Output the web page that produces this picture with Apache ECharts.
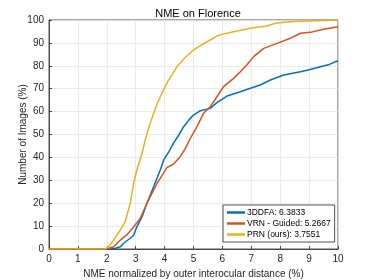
<!DOCTYPE html>
<html><head><meta charset="utf-8">
<script src="https://cdn.jsdelivr.net/npm/echarts@6/dist/echarts.min.js"></script>
<style>html,body{margin:0;padding:0;background:#fff}#c{width:374px;height:280px}</style>
</head><body><div id="c"></div>
<script>
var xTicks = [0,1,2,3,4,5,6,7,8,9,10];
var yTicks = [0,10,20,30,40,50,60,70,80,90,100];
var seriesNames = ['3DDFA: 6.3833', 'VRN - Guided: 5.2667', 'PRN (ours): 3.7551'];

var ddfaX = [0, 2.1, 2.3, 2.47, 2.58, 2.81, 2.93, 3.04, 3.22, 3.39, 3.62, 3.85, 3.97, 4.15, 4.31, 4.5, 4.66, 4.85, 5.0, 5.24, 5.58, 5.81, 6.16, 6.62, 6.97, 7.31, 7.66, 8.12, 8.7, 9.0, 9.39, 9.7, 10];
var ddfaY = [0, 0, 0.3, 1, 2.5, 4.7, 6, 9.7, 14.1, 20, 27.2, 34.5, 38.9, 42.5, 46.2, 50, 53.4, 56.5, 58.5, 60.4, 61.4, 63.9, 66.8, 68.7, 70.2, 71.6, 73.8, 76, 77.4, 78.3, 79.6, 80.6, 82.2];

var vrnX = [0, 2.0, 2.24, 2.47, 2.7, 2.93, 3.16, 3.39, 3.74, 4.08, 4.3, 4.54, 4.7, 4.86, 5.12, 5.35, 5.58, 5.81, 6.04, 6.39, 6.62, 6.85, 7.08, 7.43, 7.89, 8.35, 8.7, 9.04, 9.5, 10];
var vrnY = [0, 0, 1, 3.9, 6.3, 9.6, 13.4, 20, 28.7, 35.5, 37, 40.3, 43.5, 47.6, 53.4, 59.3, 62.1, 66.5, 70.9, 74.5, 77.4, 80.5, 84, 87.6, 89.8, 92, 94.2, 94.6, 96, 97.1];

var prnX = [0, 1.95, 2.1, 2.24, 2.47, 2.64, 2.81, 2.93, 3.04, 3.22, 3.33, 3.5, 3.7, 3.85, 4.1, 4.43, 4.7, 5.0, 5.2, 5.47, 5.87, 6.39, 6.97, 7.54, 7.8, 8.12, 8.5, 9.0, 9.5, 10];
var prnY = [0, 0, 1.5, 3.9, 8.3, 12, 20, 28.7, 34.5, 41.8, 47.6, 54.9, 62, 66.5, 73, 79.6, 83.5, 86.9, 88.5, 90.5, 93.4, 94.9, 96.4, 97.4, 98.5, 99, 99.3, 99.6, 99.8, 100];

var colors = ['#0072BD', '#D95319', '#EDB120'];

function pairs(xs, ys){ return xs.map(function(x,i){ return [x, ys[i]]; }); }

var font = 'Liberation Sans, Arial, Helvetica, sans-serif';
var chart = echarts.init(document.getElementById('c'), null, {renderer:'canvas'});
var axisCommon = {
  axisLine:{show:true, lineStyle:{color:'#262626', width:0.8}},
  axisTick:{show:true, inside:true, length:3, lineStyle:{color:'#262626', width:0.8}},
  splitLine:{show:true, lineStyle:{color:'#e6e6e6', width:0.8}},
  axisLabel:{color:'#262626', fontSize:10, fontFamily:font}
};
chart.setOption({
  animation:false,
  color: colors,
  title:{text:'NME on Florence', left:193, top:3, textAlign:'center',
    textStyle:{fontSize:11, fontWeight:'normal', color:'#000', fontFamily:font}},
  grid:{left:49, right:36, top:20, bottom:31, show:true, borderColor:'#262626', borderWidth:0.8, outerBoundsMode:'none', containLabel:false},
  xAxis: Object.assign({}, axisCommon, {
    type:'value', min:0, max:10, interval:1,
    name:'NME normalized by outer interocular distance (%)', nameLocation:'middle', nameGap:19,
    nameTextStyle:{fontSize:10, color:'#262626', fontFamily:font},
    axisLabel:Object.assign({}, axisCommon.axisLabel, {margin:5, formatter:function(v){return xTicks.indexOf(v)>=0? String(v):'';}})
  }),
  yAxis: Object.assign({}, axisCommon, {
    type:'value', min:0, max:100, interval:10,
    name:'Number of Images (%)', nameLocation:'middle', nameGap:21, nameMoveOverlap:false,
    nameTextStyle:{fontSize:10, color:'#262626', fontFamily:font},
    axisLabel:Object.assign({}, axisCommon.axisLabel, {margin:5, formatter:function(v){return yTicks.indexOf(v)>=0? String(v):'';}})
  }),
  legend:{
    orient:'vertical', left:223, top:205,
    data: seriesNames,
    icon:'rect', itemWidth:18, itemHeight:2.5, itemGap:2,
    padding:[3,4,3,4],
    borderColor:'#262626', borderWidth:0.8, backgroundColor:'#fff',
    textStyle:{fontSize:8.5, color:'#000', fontFamily:font, padding:[0,0,0,-3]}
  },
  series:[
    {name:seriesNames[0], type:'line', data:pairs(ddfaX, ddfaY), showSymbol:false, symbol:'none', lineStyle:{width:1.5, color:colors[0]}},
    {name:seriesNames[1], type:'line', data:pairs(vrnX, vrnY), showSymbol:false, symbol:'none', lineStyle:{width:1.5, color:colors[1]}},
    {name:seriesNames[2], type:'line', data:pairs(prnX, prnY), showSymbol:false, symbol:'none', lineStyle:{width:1.5, color:colors[2]}}
  ]
});
</script></body></html>
